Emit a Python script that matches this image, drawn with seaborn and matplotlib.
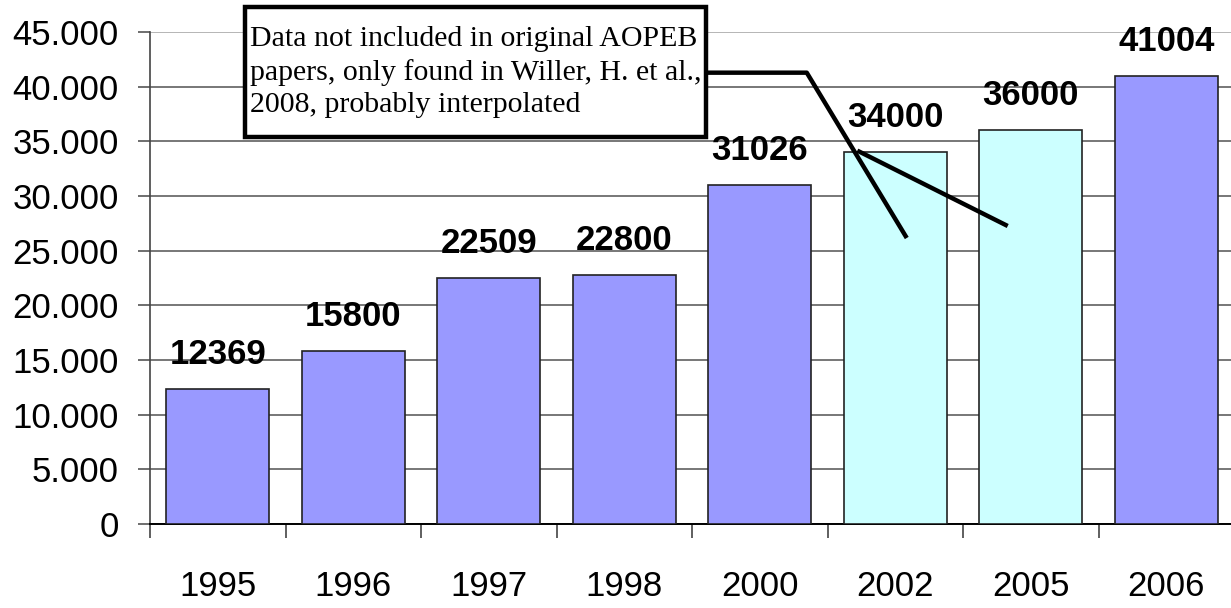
import numpy as np
import matplotlib.pyplot as plt
import seaborn as sns
from matplotlib.patches import Rectangle
from matplotlib.ticker import FuncFormatter

# data
years = ['1995', '1996', '1997', '1998', '2000', '2002', '2005', '2006']
values = [12369, 15800, 22509, 22800, 31026, 34000, 36000, 41004]
interpolated = [False, False, False, False, False, True, True, False]
note = 'Data not included in original AOPEB\npapers, only found in Willer, H. et al.,\n2008, probably interpolated'

sns.set_style('white')
plt.rcParams['font.family'] = ['Liberation Sans', 'DejaVu Sans']
plt.rcParams['text.color'] = 'black'
plt.rcParams['xtick.color'] = 'black'
plt.rcParams['ytick.color'] = 'black'

colors = ['#CCFFFF' if f else '#9999FF' for f in interpolated]

fig = plt.figure(figsize=(12.31, 6.08), dpi=100)
ax = fig.add_axes([150/1231, 84/608, 1084/1231, 492/608])

sns.barplot(x=years, y=values, hue=years, palette=colors, legend=False, saturation=1,
            width=0.76, edgecolor='#222222', linewidth=1.2, ax=ax, zorder=3)

ax.set_xlim(-0.5, 7.5)
ax.set_ylim(0, 45000)
ax.set_yticks(np.arange(0, 45001, 5000))
ax.yaxis.set_major_formatter(FuncFormatter(lambda v, p: '0' if v == 0 else f'{int(v):,}'.replace(',', '.')))
ax.grid(axis='y', color='#777777', lw=1.4, zorder=0)
ax.get_ygridlines()[-1].set_color('#b5b5b5')
ax.set_axisbelow(True)

for s in ['top', 'right']:
    ax.spines[s].set_visible(False)
ax.spines['left'].set_color('#444444')
ax.spines['left'].set_linewidth(1.2)
ax.spines['bottom'].set_color('black')
ax.spines['bottom'].set_linewidth(1.4)

ax.tick_params(axis='y', left=True, direction='out', length=8.6, width=1.2, color='#555555',
               labelsize=25, pad=14)
ax.set_xticks(np.arange(-0.5, 8, 1), minor=True)
ax.tick_params(axis='x', which='minor', bottom=True, direction='out', length=10, width=1.2,
               color='#444444')
ax.tick_params(axis='x', which='major', bottom=True, length=0, labelsize=25, pad=33)
ax.set_xlabel('')
ax.set_ylabel('')

for i, v in enumerate(values):
    ax.annotate(str(v), (i, v), xytext=(0, 13), textcoords='offset points',
                ha='center', va='bottom', fontsize=25, fontweight='bold', zorder=5)

# note box and leader lines
ax.add_patch(Rectangle((0.201, 35396), 3.40, 11890, facecolor='white', edgecolor='black',
                       lw=3.2, clip_on=False, zorder=6))
ax.text(0.235, 41341, note, ha='left', va='center', fontsize=21.5, linespacing=1.32,
        family=['Liberation Serif', 'DejaVu Serif'], zorder=7, clip_on=False)
ax.plot([3.603, 4.347, 5.085], [41280, 41280, 26159], color='black', lw=3.2,
        clip_on=False, zorder=6, solid_capstyle='butt')
ax.plot([4.72, 5.83], [34150, 27256], color='black', lw=3.2, clip_on=False, zorder=6,
        solid_capstyle='butt')

fig.savefig('out.png', dpi=100)
